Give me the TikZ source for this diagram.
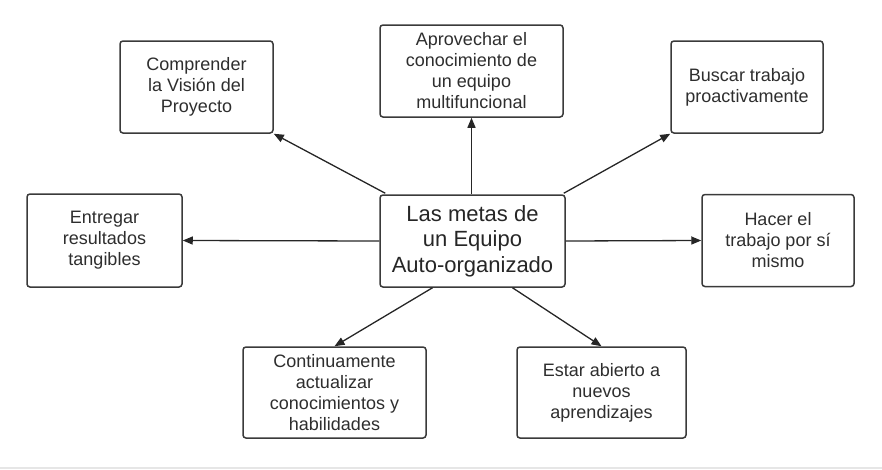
\documentclass[tikz,border=0pt]{standalone}
\usepackage{fontspec}
\setmainfont{Liberation Sans}
\usetikzlibrary{arrows.meta}
\definecolor{boxline}{HTML}{3A3A3A}
\definecolor{txt}{HTML}{2E2E2E}
\definecolor{band}{HTML}{E6E6E6}
\tikzset{
  goal/.style={draw=boxline, line width=1.5pt, rounded corners=3pt, fill=white,
    inner sep=0pt, align=center, text=txt,
    font=\fontsize{18}{21}\selectfont},
  mainbox/.style={goal, font=\fontsize{22}{25.5}\selectfont, text=black!85},
  link/.style={draw=black!85, line width=1.3pt, -{Triangle[length=10pt,width=8pt]}}
}
\begin{document}
\begin{tikzpicture}[x=1pt,y=-1pt]
\useasboundingbox (0,0) rectangle (882,469);
\fill[band] (0,466.5) rectangle (882,469);
\node[goal, minimum width=153pt, minimum height=92pt] (c1) at (196.5,87) {Comprender\\la Visión del\\Proyecto};
\node[goal, minimum width=183pt, minimum height=92pt] (c2) at (471.5,71) {Aprovechar el\\conocimiento de\\un equipo\\multifuncional};
\node[goal, minimum width=152pt, minimum height=92pt] (c3) at (747,87) {Buscar trabajo\\proactivamente};
\node[mainbox, minimum width=185pt, minimum height=92pt] (m) at (472.5,241) {Las metas de\\un Equipo\\Auto-organizado};
\node[goal, minimum width=155pt, minimum height=93pt] (e) at (104.5,240.5) {Entregar\\resultados\\tangibles};
\node[goal, minimum width=152pt, minimum height=92pt] (h) at (778,240.5) {Hacer el\\trabajo por sí\\mismo};
\node[goal, minimum width=183pt, minimum height=91pt] (k) at (334.5,392.5) {Continuamente\\actualizar\\conocimientos y\\habilidades};
\node[goal, minimum width=169pt, minimum height=91pt] (s) at (601.5,392.5) {Estar abierto a\\nuevos\\aprendizajes};
\coordinate (mnw) at ([xshift=6pt,yshift=1pt]m.north west);
\coordinate (mne) at ([xshift=-2pt,yshift=1pt]m.north east);
\coordinate (msw) at ([xshift=-40pt]m.south);
\coordinate (mse) at ([xshift=40pt]m.south);
\draw[link] (mnw) -- (c1.south east);
\draw[link] (m.north -| c2.south) -- (c2.south);
\draw[link] (mne) -- (c3.south west);
\draw[link] (m.west) -- (e.east);
\draw[link] (m.east) -- (h.west);
\draw[link] (msw) -- (k.north);
\draw[link] (mse) -- (s.north);
\end{tikzpicture}
\end{document}
